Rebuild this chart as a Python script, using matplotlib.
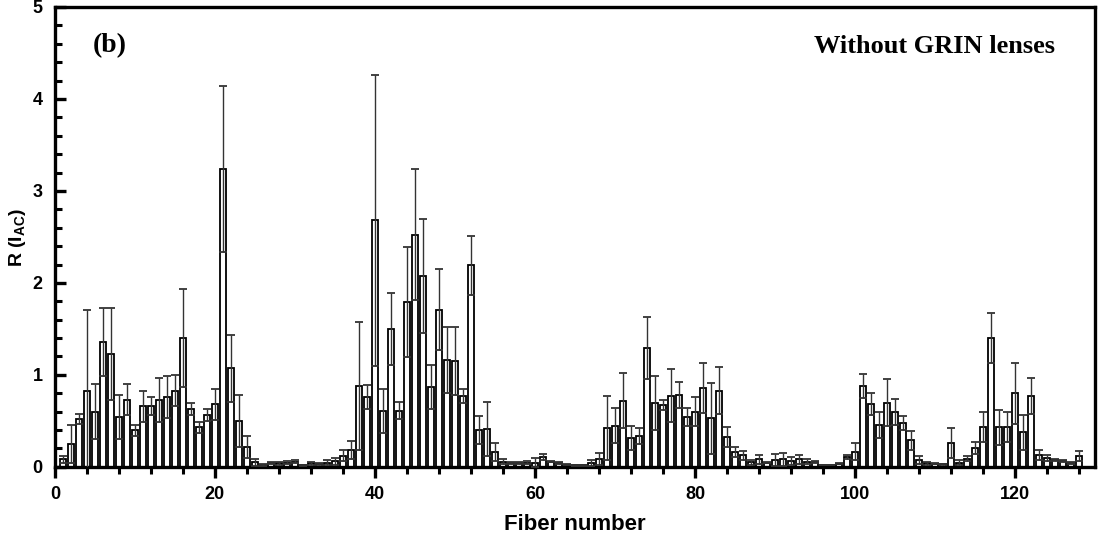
import numpy as np
import matplotlib
matplotlib.use('Agg')
import matplotlib.pyplot as plt
from matplotlib.ticker import MultipleLocator

# Datos (fibra 1..128)
fibras = np.arange(1, 129)
valores = [
    0.08, 0.25, 0.52, 0.83, 0.60, 1.36, 1.23, 0.54, 0.73, 0.40,
    0.66, 0.66, 0.73, 0.76, 0.83, 1.40, 0.63, 0.43, 0.56, 0.68,
    3.24, 1.07, 0.50, 0.22, 0.05, 0.022, 0.04, 0.04, 0.047, 0.055,
    0.015, 0.04, 0.033, 0.047, 0.06, 0.12, 0.185, 0.88, 0.76, 2.68,
    0.61, 1.50, 0.61, 1.79, 2.525, 2.08, 0.87, 1.71, 1.16, 1.15,
    0.77, 2.19, 0.40, 0.41, 0.16, 0.058, 0.04, 0.04, 0.047, 0.047,
    0.105, 0.058, 0.04, 0.025, 0.015, 0.015, 0.04, 0.084, 0.42, 0.447,
    0.72, 0.313, 0.335, 1.29, 0.695, 0.673, 0.775, 0.78, 0.54, 0.60,
    0.86, 0.53, 0.83, 0.324, 0.16, 0.124, 0.05, 0.08, 0.047, 0.072,
    0.08, 0.06, 0.08, 0.056, 0.05, 0.02, 0.02, 0.036, 0.105, 0.164,
    0.884, 0.684, 0.455, 0.695, 0.597, 0.477, 0.287, 0.07, 0.04, 0.036,
    0.03, 0.258, 0.047, 0.087, 0.204, 0.433, 1.40, 0.433, 0.433, 0.80,
    0.375, 0.775, 0.127, 0.095, 0.076, 0.062, 0.044, 0.12,
]
errores = [
    0.04, 0.21, 0.055, 0.88, 0.30, 0.37, 0.50, 0.24, 0.17, 0.06,
    0.17, 0.10, 0.24, 0.23, 0.165, 0.53, 0.065, 0.06, 0.065, 0.17,
    0.90, 0.36, 0.28, 0.12, 0.04, 0.01, 0.01, 0.015, 0.015, 0.015,
    0.005, 0.015, 0.01, 0.025, 0.035, 0.06, 0.10, 0.70, 0.135, 1.58,
    0.24, 0.39, 0.095, 0.595, 0.71, 0.62, 0.24, 0.44, 0.36, 0.37,
    0.08, 0.32, 0.155, 0.29, 0.10, 0.026, 0.012, 0.008, 0.015, 0.045,
    0.035, 0.01, 0.008, 0.005, 0.003, 0.003, 0.036, 0.066, 0.35, 0.19,
    0.30, 0.13, 0.085, 0.34, 0.29, 0.05, 0.285, 0.14, 0.095, 0.16,
    0.27, 0.385, 0.26, 0.11, 0.055, 0.05, 0.025, 0.05, 0.01, 0.068,
    0.072, 0.045, 0.047, 0.028, 0.012, 0.004, 0.004, 0.005, 0.025, 0.09,
    0.13, 0.115, 0.145, 0.255, 0.145, 0.08, 0.10, 0.043, 0.018, 0.008,
    0.005, 0.165, 0.023, 0.026, 0.066, 0.165, 0.275, 0.19, 0.165, 0.33,
    0.19, 0.195, 0.055, 0.03, 0.011, 0.011, 0.011, 0.055,
]

plt.rcParams['mathtext.fontset'] = 'custom'
plt.rcParams['mathtext.rm'] = 'Liberation Sans:bold'
plt.rcParams['mathtext.bf'] = 'Liberation Sans:bold'

fig = plt.figure(figsize=(10.98, 5.36), dpi=100)
ax = fig.add_axes([0.050, 0.129, 0.9473, 0.858])

ax.bar(fibras, valores, width=0.8, color='white', edgecolor='black', linewidth=1.3, zorder=2)
ax.errorbar(fibras, valores, yerr=errores, fmt='none', ecolor='#333333',
            elinewidth=1.0, capsize=3, capthick=1.3, zorder=3)

ax.set_xlim(0, 130)
ax.set_ylim(0, 5)
ax.xaxis.set_major_locator(MultipleLocator(20))
ax.xaxis.set_minor_locator(MultipleLocator(4))
ax.yaxis.set_major_locator(MultipleLocator(1))
ax.yaxis.set_minor_locator(MultipleLocator(0.2))

for s in ax.spines.values():
    s.set_linewidth(2.4)

ax.tick_params(axis='x', which='major', direction='out', length=8, width=2.4, pad=6)
ax.tick_params(axis='x', which='minor', direction='out', length=5, width=2.2)
ax.tick_params(axis='y', which='major', direction='in', length=8, width=2.4, pad=9)
ax.tick_params(axis='y', which='minor', direction='in', length=5, width=2.2)
ax.tick_params(labelsize=13)
for lbl in ax.get_xticklabels() + ax.get_yticklabels():
    lbl.set_fontfamily('Liberation Sans')
    lbl.set_fontweight('bold')

ax.set_xlabel('Fiber number', fontsize=16, fontweight='bold', family='Liberation Sans', labelpad=8)
ax.set_ylabel(r'R (I$_{\mathrm{AC}}$)', fontsize=14, fontweight='bold', family='Liberation Sans', labelpad=3)

ax.text(0.036, 0.915, '(b)', transform=ax.transAxes, fontsize=20, fontweight='bold',
        family='Liberation Serif', va='center', ha='left')
ax.text(0.9615, 0.915, 'Without GRIN lenses', transform=ax.transAxes, fontsize=19,
        fontweight='bold', family='Liberation Serif', va='center', ha='right')

fig.savefig('out.png', dpi=100)
